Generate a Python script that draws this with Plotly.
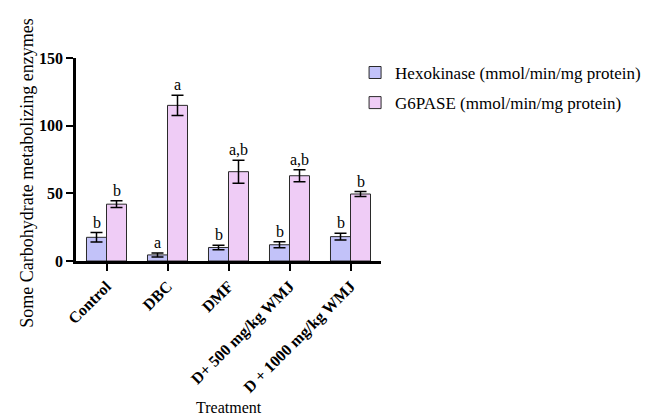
import plotly.graph_objects as go

categories = ["Control", "DBC", "DMF", "D+ 500 mg/kg WMJ", "D + 1000 mg/kg WMJ"]
hexokinase = [17.5, 4.5, 10.0, 12.0, 18.0]
hexokinase_err = [3.5, 1.5, 1.7, 2.3, 2.5]
g6pase = [42.0, 115.0, 66.0, 63.0, 49.5]
g6pase_err = [2.5, 7.5, 8.5, 4.5, 1.8]
hexokinase_letters = ["b", "a", "b", "b", "b"]
g6pase_letters = ["b", "a", "a,b", "a,b", "b"]
y_ticks = [0, 50, 100, 150]

serif = "Liberation Serif, Times New Roman, serif"
x_pos = list(range(len(categories)))
bargap = 0.344
half = (1 - bargap) / 4  # offset of each bar centre from the group centre

fig = go.Figure()
fig.add_trace(go.Bar(
    x=x_pos, y=hexokinase, name="Hexokinase (mmol/min/mg protein)", legendgroup="hk",
    marker=dict(color="#C2C2F9", line=dict(color="#2a2a2a", width=1)),
    error_y=dict(type="data", array=hexokinase_err, color="black", thickness=1.5, width=6),
))
fig.add_trace(go.Bar(
    x=x_pos, y=g6pase, name="G6PASE (mmol/min/mg protein)", legendgroup="g6",
    marker=dict(color="#EFCCF6", line=dict(color="#2a2a2a", width=1)),
    error_y=dict(type="data", array=g6pase_err, color="black", thickness=1.5, width=6),
))

annotations = []
for i in x_pos:
    for vals, errs, letters, off in ((hexokinase, hexokinase_err, hexokinase_letters, -half),
                                     (g6pase, g6pase_err, g6pase_letters, half)):
        annotations.append(dict(
            x=i + off, y=vals[i] + errs[i], xref="x", yref="y",
            text=letters[i], showarrow=False, yanchor="bottom", yshift=0,
            font=dict(family=serif, size=16, color="black"),
        ))

annotations.append(dict(
    text="Treatment", x=0.5, y=-0.0, xref="paper", yref="paper", showarrow=False,
    yanchor="middle", yshift=-146, font=dict(family=serif, size=16, color="black"),
))
annotations.append(dict(
    text="Some Carbohydrate metabolizing enzymes", x=0, y=0.43, xref="paper", yref="paper",
    showarrow=False, textangle=-90, xanchor="center", xshift=-49,
    font=dict(family=serif, size=18, color="black"),
))

fig.update_layout(
    width=664, height=415,
    margin=dict(l=76, r=283, t=58, b=154),
    paper_bgcolor="white", plot_bgcolor="white",
    barmode="group", bargap=bargap, bargroupgap=0,
    annotations=annotations,
    showlegend=True,
    legend=dict(x=0.915, y=1.015, xanchor="left", yanchor="top",
                font=dict(family=serif, size=17, color="black"),
                tracegroupgap=5, itemwidth=30, bgcolor="rgba(0,0,0,0)"),
    font=dict(family=serif, color="black"),
)
fig.update_xaxes(
    range=[-0.5, 4.5], tickmode="array", tickvals=x_pos, ticktext=categories,
    tickangle=-45, showline=True, linecolor="black", linewidth=2.5,
    ticks="outside", ticklen=7, tickwidth=2, tickcolor="black",
    tickfont=dict(family=serif, size=16, color="black", weight="bold"),
    showgrid=False, zeroline=False,
)
fig.update_yaxes(
    range=[0, 150], tickvals=y_ticks, showline=True, linecolor="black", linewidth=2.5,
    ticks="outside", ticklen=7, tickwidth=2, tickcolor="black",
    tickfont=dict(family=serif, size=16, color="black", weight="bold"),
    showgrid=False, zeroline=False,
)

fig.write_html("out.html")
